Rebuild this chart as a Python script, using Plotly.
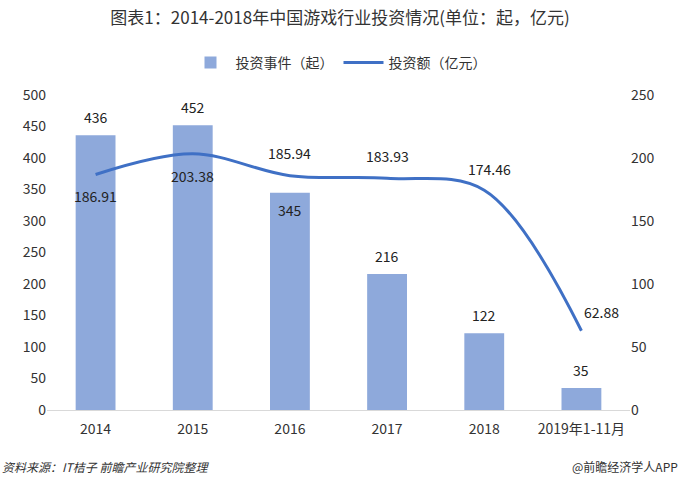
import plotly.graph_objects as go

categories = ["2014", "2015", "2016", "2017", "2018", "2019年1-11月"]
events = [436, 452, 345, 216, 122, 35]
amount = [186.91, 203.38, 185.94, 183.93, 174.46, 62.88]

# label offsets (pixels) - styling only
bar_label_shift = [18, 18, -17, 18, 18, 18]
line_label_xshift = [0, 0, 0, 0, 5, 20]
line_label_yshift = [-22, -22, 23, 22, 21, 19]

FONT = "Noto Sans CJK SC, Liberation Sans, sans-serif"
LABEL_FONT = dict(size=14, color="#222222", family=FONT)

fig = go.Figure()
fig.add_trace(go.Bar(
    x=categories, y=events, name="投资事件（起）",
    marker=dict(color="#8EA9DB", line=dict(width=0)),
    width=0.41,
))
fig.add_trace(go.Scatter(
    x=categories, y=amount, name="投资额（亿元）", yaxis="y2",
    mode="lines",
    line=dict(color="#3F70C5", width=3, shape="spline", smoothing=1.0),
    cliponaxis=False,
))

annotations = []
for i, (v, s) in enumerate(zip(events, bar_label_shift)):
    annotations.append(dict(x=i, y=v, xref="x", yref="y", text=str(v), showarrow=False,
                            yshift=s, font=LABEL_FONT, xanchor="center", yanchor="middle"))
for i, (v, dx, dy) in enumerate(zip(amount, line_label_xshift, line_label_yshift)):
    annotations.append(dict(x=i, y=v, xref="x", yref="y2", text=f"{v:.2f}", showarrow=False,
                            xshift=dx, yshift=dy, font=LABEL_FONT, xanchor="center", yanchor="middle"))

annotations += [
    dict(text="<i>资料来源：IT桔子 前瞻产业研究院整理</i>", xref="paper", yref="paper",
         x=-47/583, xanchor="left", y=-56/315, yanchor="middle", showarrow=False,
         font=dict(size=12, color="#333333", family=FONT)),
    dict(text="@前瞻经济学人APP", xref="paper", yref="paper",
         x=1 + 50/583, xanchor="right", y=-56/315, yanchor="middle", showarrow=False,
         font=dict(size=12, color="#333333", family=FONT)),
]

fig.update_layout(
    width=680, height=489,
    margin=dict(l=47, r=50, t=95, b=79),
    paper_bgcolor="white", plot_bgcolor="white",
    font=dict(family=FONT, color="#333333", size=14),
    title=dict(text="图表1：2014-2018年中国游戏行业投资情况(单位：起，亿元)",
               x=0.5, xanchor="center", y=0.963, yanchor="middle",
               font=dict(size=17, color="#333333", family=FONT)),
    legend=dict(orientation="h", x=0.5, xanchor="center", y=(410 - 63) / 315, yanchor="middle",
                font=dict(size=14, color="#333333", family=FONT),
                itemwidth=40, bgcolor="rgba(0,0,0,0)"),
    xaxis=dict(type="category", showline=True, linecolor="#D9D9D9", linewidth=1, ticks="",
               ticklabelstandoff=6, tickfont=dict(size=14, color="#333333")),
    yaxis=dict(range=[0, 500], dtick=50, showgrid=False, zeroline=False,
               showline=False, ticks="", tickfont=dict(size=14, color="#333333")),
    yaxis2=dict(range=[0, 250], dtick=50, overlaying="y", side="right",
                showgrid=False, zeroline=False, showline=False, ticks="",
                tickfont=dict(size=14, color="#333333")),
    annotations=annotations,
)

fig.write_html("out.html")
